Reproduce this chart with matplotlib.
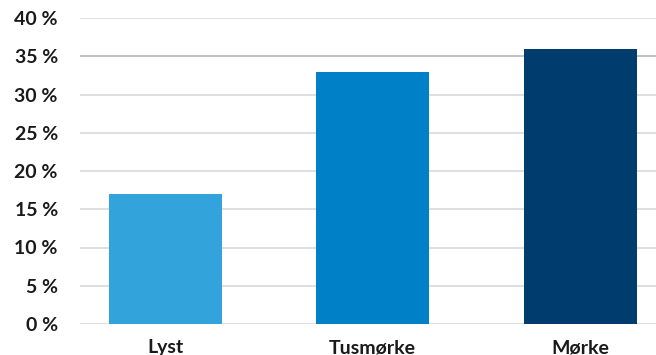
import matplotlib.pyplot as plt
from matplotlib.ticker import FuncFormatter

# Share by light condition (%)
categories = ["Lyst", "Tusmørke", "Mørke"]
values = [17, 33, 36]
colors = ["#33a3dc", "#0080c6", "#003d6e"]
yticks = [0, 5, 10, 15, 20, 25, 30, 35, 40]

plt.rcParams["font.family"] = ["Lato", "DejaVu Sans"]

fig = plt.figure(figsize=(6.56, 3.55), dpi=100)
ax = fig.add_axes([80 / 656, 1 - 324 / 355, 576 / 656, 306 / 355])

# light horizontal gridlines, 35 % line a bit darker
for t in yticks:
    ax.axhline(t, color="#bdbdbd" if t == 35 else "#dcdcdc",
               lw=1.3, zorder=0)

ax.bar(range(len(categories)), values, width=0.545, color=colors, zorder=2)

ax.set_ylim(0, 40)
ax.set_xlim(-0.41, 2.365)
ax.set_yticks(yticks)
ax.yaxis.set_major_formatter(FuncFormatter(lambda v, p: f"{v:.0f} %"))
ax.set_xticks(range(len(categories)))
ax.set_xticklabels(categories)

ax.tick_params(axis="y", length=0, pad=16, labelsize=14, labelcolor="#1a1a1a")
ax.tick_params(axis="x", length=0, pad=11, labelsize=14, labelcolor="#1a1a1a")
for lab in ax.get_xticklabels() + ax.get_yticklabels():
    lab.set_fontweight("bold")

for s in ax.spines.values():
    s.set_visible(False)

fig.savefig("out.png", dpi=100)
